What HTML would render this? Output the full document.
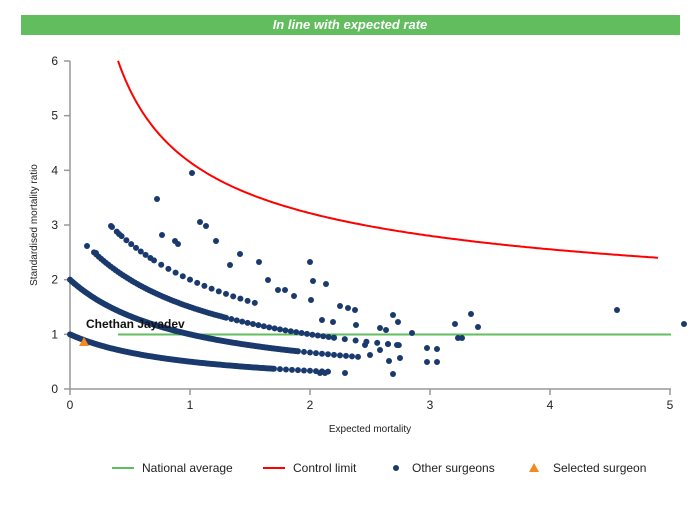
<!DOCTYPE html>
<html><head><meta charset="utf-8"><style>
body{margin:0;background:#fff;width:700px;height:500px;overflow:hidden;font-family:"Liberation Sans",Arial,sans-serif}
</style></head><body>
<svg id="s" width="700" height="500" xmlns="http://www.w3.org/2000/svg" font-family="Liberation Sans, Arial, sans-serif">
<rect x="21" y="15" width="659" height="20" fill="#62bd5e"/>
<text x="350" y="29" text-anchor="middle" fill="#fff" font-size="13" font-weight="bold" font-style="italic">In line with expected rate</text>
<g stroke="#999" stroke-width="1.5" fill="none">
<line x1="70" y1="61" x2="70" y2="390"/>
<line x1="69" y1="389" x2="671" y2="389"/>
</g>
<g id="ticks" stroke="#999" stroke-width="1.5"></g>
<g id="lab" font-size="12" fill="#222"></g>
<text x="37" y="225" font-size="10" fill="#222" text-anchor="middle" transform="rotate(-90 37 225)">Standardised mortality ratio</text>
<text x="370" y="432" font-size="10" fill="#222" text-anchor="middle">Expected mortality</text>
<line x1="118" y1="334.5" x2="671" y2="334.5" stroke="#62bd5e" stroke-width="2"/>
<path id="cl" fill="none" stroke="#f00" stroke-width="2"/>
<g id="dots" fill="#1a3a6e"></g>
<polygon points="84,337 79,346 89,346" fill="#f28a1e"/>
<text x="86" y="328" font-size="12" font-weight="bold" fill="#111">Chethan Jayadev</text>
<g font-size="12" fill="#222">
<line x1="112" y1="468" x2="134" y2="468" stroke="#62bd5e" stroke-width="2"/>
<text x="142" y="472">National average</text>
<line x1="263" y1="468" x2="285" y2="468" stroke="#f00" stroke-width="2"/>
<text x="293" y="472">Control limit</text>
<circle cx="396" cy="468" r="3" fill="#1a3a6e"/>
<text x="412" y="472">Other surgeons</text>
<polygon points="534,463 529,472 539,472" fill="#f28a1e"/>
<text x="553" y="472">Selected surgeon</text>
</g>
</svg>
<script>
var NS="http://www.w3.org/2000/svg";
function X(e){return 70+120*e}function Y(v){return 389-54.67*v}
function el(t,a,p){var e=document.createElementNS(NS,t);for(var k in a)e.setAttribute(k,a[k]);document.getElementById(p).appendChild(e);return e}
for(var i=0;i<=6;i++){el("line",{x1:64,x2:70,y1:Y(i),y2:Y(i)},"ticks");var t=el("text",{x:58,y:Y(i)+4,"text-anchor":"end"},"lab");t.textContent=i;}
for(var i=0;i<=5;i++){el("line",{x1:X(i),x2:X(i),y1:389,y2:395},"ticks");var t=el("text",{x:X(i),y:409,"text-anchor":"middle"},"lab");t.textContent=i;}
var d="";for(var e=0.4;e<=4.901;e+=0.02){d+=(d?"L":"M")+X(e).toFixed(1)+","+Y(0.96+3.19/Math.sqrt(e)).toFixed(1);}
document.getElementById("cl").setAttribute("d",d);
function band(k,a,b,step){for(var e=a;e<=b;e+=step){el("circle",{cx:X(e),cy:Y(k/(e+1)),r:3},"dots");}}
band(1,0,1.7,0.012);band(1,1.7,2.15,0.05);
band(2,0,1.9,0.012);band(2,1.9,2.4,0.05);
band(3,0.2,1.3,0.02);band(3,1.3,2.2,0.045);band(3,2.2,2.8,0.09);
band(4,0.35,0.7,0.04);band(4,0.7,1.6,0.06);
var pts=[[192,173],[157,199],[111,226],[119,234],[162,235],[175,241],[178,244],[216,241],[240,254],[259,262],[87,246],[96,253],[310,262],[313,281],[326,284],[311,300],[278,290],[285,290],[294,296],[340,306],[348,308],[355,310],[322,320],[333,322],[356,325],[380,328],[386,330],[393,315],[398,322],[412,333],[427,348],[437,349],[427,362],[437,362],[389,361],[393,374],[388,344],[397,345],[455,324],[458,338],[462,338],[471,314],[478,327],[617,310],[684,324],[320,373],[325,373],[345,373],[400,358],[380,350],[370,355],[365,345],[200,222],[206,226],[230,265],[268,280]];
pts.forEach(function(p){el("circle",{cx:p[0],cy:p[1],r:3},"dots")});
</script>
</body></html>
